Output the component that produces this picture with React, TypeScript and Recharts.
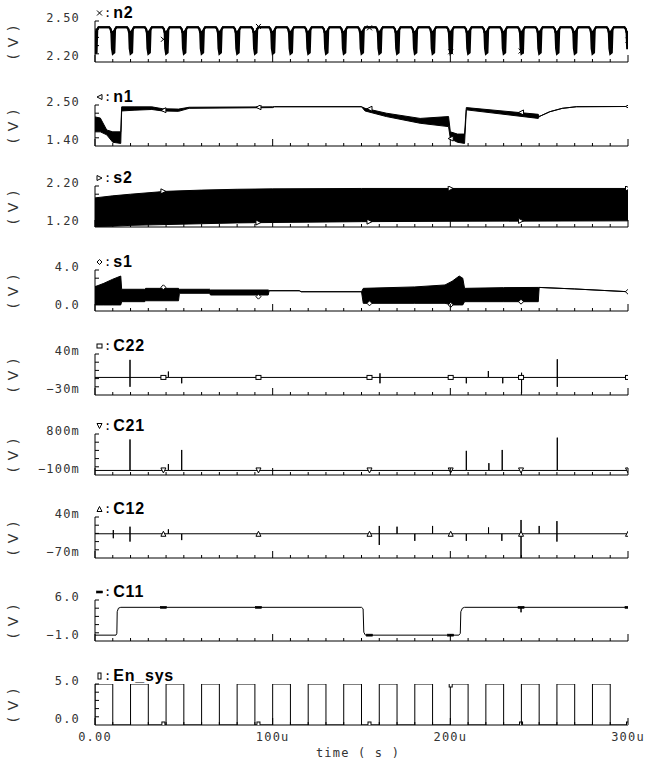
import React from 'react'
import { ComposedChart, Line, Area, XAxis, YAxis } from 'recharts'

// ---------------------------------------------------------------------------
// Layout / look
// ---------------------------------------------------------------------------

const INK = '#000'
const MONO = '"DejaVu Sans Mono", monospace'
const SANS = '"Liberation Sans", Arial, sans-serif'

const W = 651
const PLOT_LEFT = 95
const PLOT_RIGHT = 628
const PLOT_H = 41
const M_TOP = 24
const X_AXIS_H = 20
const AXIS_Y = [62, 146, 227, 311, 395, 475, 558, 641, 725]

// ---------------------------------------------------------------------------
// Axes (time in microseconds)
// ---------------------------------------------------------------------------

const xTicks = [
  0, 10, 20, 30, 40, 50, 60, 70, 80, 90, 100, 110, 120, 130, 140, 150, 160, 170,
  180, 190, 200, 210, 220, 230, 240, 250, 260, 270, 280, 290, 300,
]
const xMajor = [0, 100, 200, 300]
const xLabels = ['0.00', '100u', '200u', '300u']

const panelNames = ['n2', 'n1', 's2', 's1', 'C22', 'C21', 'C12', 'C11', 'En_sys']
const panelMarkers = ['x', 'tl', 'tr', 'd', 's', 'tv', 'ta', 'h', 'v']
const yMins = [2.2, 1.4, 1.2, 0, -30, -100, -70, -1, 0]
const yMaxs = [2.5, 2.5, 2.2, 4, 40, 800, 40, 6, 5]
const yTopLabels = ['2.50', '2.50', '2.20', '4.0', '40m', '800m', '40m', '6.0', '5.0']
const yBottomLabels = ['2.20', '1.40', '1.20', '0.0', '−30m', '−100m', '−70m', '−1.0', '0.0']

// ---------------------------------------------------------------------------
// Data
// ---------------------------------------------------------------------------

// n2: one arch per 10u cycle, dip (thick leg) at each cycle start
const n2CycleStarts = [
  0, 10, 20, 30, 40, 50, 60, 70, 80, 90, 100, 110, 120, 130, 140, 150, 160, 170,
  180, 190, 200, 210, 220, 230, 240, 250, 260, 270, 280, 290,
]
// [offset, low, high]
const n2Cycle = [
  [0, 2.26, 2.42],
  [0.9, 2.27, 2.43],
  [1.3, 2.44, 2.44],
  [2.0, 2.455, 2.455],
  [8.0, 2.455, 2.455],
  [8.8, 2.44, 2.44],
  [9.2, 2.41, 2.42],
  [9.5, 2.3, 2.42],
]
const n2End = [300, 2.3, 2.4]

// n1 envelope
const n1T = [0, 3, 6.6, 10, 14.5, 15, 22, 32, 38, 47, 53, 100, 101, 150, 152, 164, 183, 199, 200, 204, 208, 209, 249.5, 250, 256, 263, 271, 300]
const n1Lo = [1.78, 1.78, 1.7, 1.5, 1.47, 2.34, 2.36, 2.38, 2.34, 2.33, 2.41, 2.43, 2.454, 2.454, 2.34, 2.19, 2.01, 1.92, 1.6, 1.5, 1.47, 2.37, 2.14, 2.19, 2.32, 2.41, 2.454, 2.46]
const n1Hi = [2.18, 2.15, 1.83, 1.78, 1.78, 2.45, 2.45, 2.45, 2.4, 2.39, 2.44, 2.45, 2.454, 2.454, 2.41, 2.28, 2.14, 2.19, 1.78, 1.72, 1.72, 2.43, 2.25, 2.19, 2.32, 2.41, 2.454, 2.46]

// s2 envelope
const s2T = [0, 10, 20, 40, 60, 80, 100, 150, 200, 300]
const s2Lo = [1.21, 1.22, 1.24, 1.26, 1.28, 1.3, 1.31, 1.33, 1.34, 1.35]
const s2Hi = [1.91, 1.96, 2.0, 2.07, 2.1, 2.12, 2.13, 2.14, 2.14, 2.14]

// s1 envelope
const s1T = [0, 5, 10, 14.5, 15, 28, 28.5, 47, 47.5, 64.5, 65, 97.5, 98, 115, 116, 150, 151, 180, 197, 201, 205, 207, 208, 230, 249.5, 250, 270, 300]
const s1Lo = [0.59, 0.59, 0.59, 0.59, 0.91, 0.91, 1.0, 1.0, 1.73, 1.73, 1.56, 1.56, 1.98, 1.98, 1.88, 1.88, 0.75, 0.75, 0.75, 0.59, 0.59, 0.59, 0.91, 0.91, 0.91, 2.3, 2.15, 1.88]
const s1Hi = [2.37, 2.7, 3.1, 3.41, 2.12, 2.12, 2.21, 2.21, 2.12, 2.12, 2.05, 2.05, 1.98, 1.98, 1.88, 1.88, 2.21, 2.35, 2.54, 2.9, 3.41, 3.2, 2.21, 2.28, 2.3, 2.3, 2.15, 1.88]

// C22 (mV) with glitches
const c22Trace: [number, number][] = [
  [0, 0], [19.7, 0], [19.7, 30], [19.7, -16], [19.7, 0],
  [41.3, 0], [41.3, 10], [41.3, 0], [48.8, 0], [48.8, -10], [48.8, 0],
  [160.4, 0], [160.4, 7], [160.4, -10], [160.4, 0],
  [209, 0], [209, -10], [209, 0], [221.4, 0], [221.4, 11], [221.4, 0],
  [229.5, 0], [229.5, -10], [229.5, 0], [240.1, 0], [240.1, 8], [240.1, -27], [240.1, 0],
  [260.2, 0], [260.2, 31], [260.2, -16], [260.2, 0], [300, 0],
]

// C21 (mV)
const c21Trace: [number, number][] = [
  [0, 0], [19.7, 0], [19.7, 680], [19.7, 0], [41.3, 0], [41.3, 140], [41.3, 0],
  [48.8, 0], [48.8, 450], [48.8, 0], [209, 0], [209, 430], [209, 0],
  [221.7, 0], [221.7, 160], [221.7, 0], [229.2, 0], [229.2, 450], [229.2, 0],
  [260.2, 0], [260.2, 720], [260.2, 0], [300, 0],
]

// C12 (mV)
const c12Trace: [number, number][] = [
  [0, -5], [10.3, -5], [10.3, 5], [10.3, -17], [10.3, -5],
  [19.7, -5], [19.7, 14], [19.7, -26], [19.7, -5],
  [41.3, -5], [41.3, 7], [41.3, -5], [48.8, -5], [48.8, -22], [48.8, -5],
  [160, -5], [160, 16], [160, -35], [160, -5], [170, -5], [170, 14], [170, -5],
  [180, -5], [180, -24], [180, -5], [190, -5], [190, 16], [190, -5],
  [209, -5], [209, -24], [209, -5], [221.5, -5], [221.5, 12], [221.5, -5],
  [229, -5], [229, -24], [229, -5], [239.8, -5], [239.8, 32], [239.8, -70], [239.8, -5],
  [250, -5], [250, 16], [250, -5], [260, -5], [260, 29], [260, -26], [260, -5], [300, -5],
]

// C11
const c11Trace: [number, number][] = [
  [0, 0], [11.8, 0], [12.3, 0.3], [12.5, 4.0], [13.2, 4.6], [14.5, 4.75],
  [150, 4.75], [150.9, 4.5], [151.3, 0.5], [152.2, 0],
  [204.8, 0], [205.6, 0.3], [205.9, 4.0], [206.8, 4.6], [208, 4.75],
  [239.8, 4.75], [239.8, 3.9], [239.8, 4.75], [300, 4.75],
]

// En_sys pulses
const enRise = [0, 20, 40, 60, 80, 100, 120, 140, 160, 180, 200, 220, 240, 260, 280]
const enFall = [10, 30, 50, 70, 90, 110, 130, 150, 170, 190, 210, 230, 250, 270, 290]
const enHigh = 5

// symbol markers along each trace
const markerTimes = [38.5, 92, 154.5, 200.2, 239.8, 300]
const n2Marks = [2.366, 2.46, 2.45, 2.275, 2.28, 2.36]
const n1Marks = [2.36, 2.44, 2.4, 1.6, 2.3, 2.46]
const s2Marks = [2.07, 1.31, 1.33, 2.14, 1.35, 2.14]
const s1Marks = [2.31, 1.4, 0.75, 0.6, 0.91, 1.88]
const c22Marks = [0, 0, 0, 0, 0, 0]
const c21Marks = [0, 0, 0, 0, 0, 0]
const c12Marks = [-5, -5, -5, -5, -5, -5]
const c11Marks = [4.75, 4.75, 0, 0, 4.75, 4.75]
const enMarks = [0, 0, 0, 5, 0, 0]

// ---------------------------------------------------------------------------
// Builders
// ---------------------------------------------------------------------------

const rangeRows = (ts: number[], lo: number[], hi: number[]) =>
  ts.map((t, k) => ({ t, r: [lo[k], hi[k]] }))

const n2Rows = n2CycleStarts
  .flatMap((c) => n2Cycle.map(([o, lo, hi]) => ({ t: c + o, r: [lo, hi] })))
  .concat([{ t: n2End[0], r: [n2End[1], n2End[2]] }])

const traceRows = (tr: [number, number][]) => tr.map(([t, v]) => ({ t, v }))

const enRows = [
  ...enRise.flatMap((r, k) => [
    { t: r, v: 0 },
    { t: r, v: enHigh },
    { t: enFall[k], v: enHigh },
    { t: enFall[k], v: 0 },
  ]),
  { t: 300, v: 0 },
]

const markRows = (vals: number[]) => markerTimes.map((t, k) => ({ t, v: vals[k] }))

// ---------------------------------------------------------------------------
// Pieces
// ---------------------------------------------------------------------------

function MarkerShape({ kind, cx, cy }: { kind: string; cx: number; cy: number }) {
  const s = 2.5
  const common = { stroke: INK, strokeWidth: 1, fill: '#fff' }
  switch (kind) {
    case 'x':
      return <path d={`M${cx - s},${cy - s}L${cx + s},${cy + s}M${cx - s},${cy + s}L${cx + s},${cy - s}`} stroke={INK} fill="none" />
    case 'tl':
      return <path d={`M${cx + s},${cy - s}L${cx + s},${cy + s}L${cx - s},${cy}Z`} {...common} />
    case 'tr':
      return <path d={`M${cx - s},${cy - s}L${cx - s},${cy + s}L${cx + s},${cy}Z`} {...common} />
    case 'd':
      return <path d={`M${cx},${cy - s}L${cx + s},${cy}L${cx},${cy + s}L${cx - s},${cy}Z`} {...common} />
    case 's':
      return <rect x={cx - s} y={cy - 2} width={2 * s} height={4} {...common} />
    case 'tv':
      return <path d={`M${cx - s},${cy - s}L${cx + s},${cy - s}L${cx},${cy + s}Z`} {...common} />
    case 'ta':
      return <path d={`M${cx - s},${cy + s}L${cx + s},${cy + s}L${cx},${cy - s}Z`} {...common} />
    case 'h':
      return <rect x={cx - 3} y={cy - 1} width={6} height={2} fill={INK} stroke={INK} strokeWidth={0.6} />
    default:
      return <rect x={cx - 1.5} y={cy - 3} width={3} height={6} {...common} />
  }
}

function XTick(p: any) {
  const { x, y, payload, last } = p
  const v = payload.value
  const mi = xMajor.indexOf(v)
  return (
    <g>
      <line x1={x} x2={x} y1={y} y2={y - (mi >= 0 ? 7 : 3)} stroke={INK} />
      {last && mi >= 0 ? (
        <text x={x} y={y + 12} textAnchor="middle" dominantBaseline="central" fontFamily={MONO} fontSize={12} letterSpacing={1.2} fill="#333">
          {xLabels[mi]}
        </text>
      ) : null}
    </g>
  )
}

function YTick(p: any) {
  const { x, y, payload, i } = p
  const v = payload.value
  const span = yMaxs[i] - yMins[i]
  const isTop = Math.abs(v - yMaxs[i]) < span * 1e-6
  const isBot = Math.abs(v - yMins[i]) < span * 1e-6
  return (
    <g>
      {!isBot ? <line x1={x} x2={x + 4} y1={y} y2={y} stroke={INK} /> : null}
      {isTop || isBot ? (
        <text x={80} y={isTop ? y - 3 : y - 6} textAnchor="end" dominantBaseline="central" fontFamily={MONO} fontSize={12} letterSpacing={1.2} fill="#333">
          {isTop ? yTopLabels[i] : yBottomLabels[i]}
        </text>
      ) : null}
    </g>
  )
}

function Panel({ i, children }: { i: number; children: React.ReactNode }) {
  const min = yMins[i]
  const max = yMaxs[i]
  const last = i === panelNames.length - 1
  const axisH = last ? 34 : X_AXIS_H
  const height = M_TOP + PLOT_H + axisH
  const yTicks = [0, 1, 2, 3, 4, 5].map((k) => min + ((max - min) * k) / 5)
  return (
    <div style={{ position: 'absolute', left: 0, top: AXIS_Y[i] - PLOT_H - M_TOP, width: W, height }}>
      <ComposedChart width={W} height={height} margin={{ top: M_TOP, right: W - PLOT_RIGHT, bottom: 0, left: 0 }}>
        <XAxis
          type="number"
          dataKey="t"
          domain={[0, 300]}
          ticks={xTicks}
          interval={0}
          height={axisH}
          tickSize={0}
          tickMargin={0}
          tickLine={false}
          axisLine={{ stroke: INK }}
          tick={(p: any) => <XTick {...p} last={last} />}
          allowDataOverflow
        />
        <YAxis
          type="number"
          domain={[min, max]}
          ticks={yTicks}
          interval={0}
          width={PLOT_LEFT}
          tickSize={0}
          tickMargin={0}
          tickLine={false}
          axisLine={{ stroke: INK }}
          tick={(p: any) => <YTick {...p} i={i} />}
          allowDataOverflow
        />
        {children}
      </ComposedChart>
      <div style={{ position: 'absolute', left: 95, top: 7, height: 18, display: 'flex', alignItems: 'center', whiteSpace: 'nowrap' }}>
        <svg width={9} height={10} style={{ display: 'block' }}>
          <MarkerShape kind={panelMarkers[i]} cx={4.5} cy={5} />
        </svg>
        <span style={{ fontFamily: MONO, fontSize: 12, margin: '0 2px 0 0' }}>:</span>
        <span style={{ fontFamily: SANS, fontWeight: 'bold', fontSize: 16, letterSpacing: 0.8 }}>{panelNames[i]}</span>
      </div>
      <div
        style={{
          position: 'absolute',
          left: 13,
          top: 45,
          transform: 'translate(-50%, -50%) rotate(-90deg)',
          fontFamily: '"DejaVu Sans", sans-serif',
          fontSize: 14,
          letterSpacing: 1,
          whiteSpace: 'pre',
          color: '#333',
        }}
      >
        ( V )
      </div>
    </div>
  )
}

function band(rows: any[], w = 1) {
  return (
    <Area
      data={rows}
      dataKey="r"
      type="linear"
      stroke={INK}
      strokeWidth={w}
      fill={INK}
      fillOpacity={1}
      dot={false}
      activeDot={false}
      isAnimationActive={false}
    />
  )
}

function trace(rows: any[]) {
  return <Line data={rows} dataKey="v" type="linear" stroke={INK} strokeWidth={1} dot={false} activeDot={false} isAnimationActive={false} />
}

function marks(rows: any[], kind: string) {
  return (
    <Line
      data={rows}
      dataKey="v"
      stroke="none"
      dot={(p: any) => <MarkerShape key={p.index} kind={kind} cx={p.cx} cy={p.cy} />}
      activeDot={false}
      isAnimationActive={false}
    />
  )
}

export default function App() {
  return (
    <div style={{ position: 'absolute', left: 0, top: 0, width: W, height: 761, background: '#fff', overflow: 'hidden' }}>
      <Panel i={0}>
        {band(n2Rows, 2)}
        {marks(markRows(n2Marks), 'x')}
      </Panel>
      <Panel i={1}>
        {band(rangeRows(n1T, n1Lo, n1Hi))}
        {marks(markRows(n1Marks), 'tl')}
      </Panel>
      <Panel i={2}>
        {band(rangeRows(s2T, s2Lo, s2Hi))}
        {marks(markRows(s2Marks), 'tr')}
      </Panel>
      <Panel i={3}>
        {band(rangeRows(s1T, s1Lo, s1Hi))}
        {marks(markRows(s1Marks), 'd')}
      </Panel>
      <Panel i={4}>
        {trace(traceRows(c22Trace))}
        {marks(markRows(c22Marks), 's')}
      </Panel>
      <Panel i={5}>
        {trace(traceRows(c21Trace))}
        {marks(markRows(c21Marks), 'tv')}
      </Panel>
      <Panel i={6}>
        {trace(traceRows(c12Trace))}
        {marks(markRows(c12Marks), 'ta')}
      </Panel>
      <Panel i={7}>
        {trace(traceRows(c11Trace))}
        {marks(markRows(c11Marks), 'h')}
      </Panel>
      <Panel i={8}>
        {trace(enRows)}
        {marks(markRows(enMarks), 'v')}
      </Panel>
      <div
        style={{
          position: 'absolute',
          left: 358,
          top: 753,
          transform: 'translate(-50%, -50%)',
          fontFamily: MONO,
          fontSize: 12,
          letterSpacing: 1.2,
          whiteSpace: 'pre',
          color: '#333',
        }}
      >
        time ( s )
      </div>
    </div>
  )
}
